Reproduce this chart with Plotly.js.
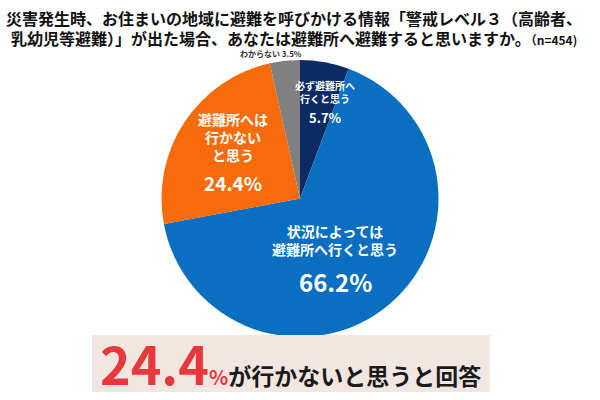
<!DOCTYPE html>
<html>
<head>
<meta charset="utf-8">
<script src="https://cdn.plot.ly/plotly-3.0.1.min.js"></script>
<style>
  html, body { margin: 0; padding: 0; background: #fff; }
  #chart { width: 600px; height: 400px; }
</style>
</head>
<body>
<div id="chart"></div>
<script>
const categories = ['必ず避難所へ行くと思う', '状況によっては避難所へ行くと思う', '避難所へは行かないと思う', 'わからない']
const labelLines = [
  ['必ず避難所へ', '行くと思う'],
  ['状況によっては', '避難所へ行くと思う'],
  ['避難所へは', '行かない', 'と思う'],
  ['わからない']
]
const shares = [5.7, 66.2, 24.4, 3.5]
const sliceColors = ['#0c2b62', '#0a6fc1', '#f76b0b', '#808080']
const sampleSize = 454
const titleLines = [
  '災害発生時、お住まいの地域に避難を呼びかける情報「警戒レベル３（高齢者、',
  '乳幼児等避難）」が出た場合、あなたは避難所へ避難すると思いますか。'
]
const bannerValue = 24.4
const bannerText = 'が行かないと思うと回答'

const pct = v => v.toFixed(1) + '%'
const font = '"Noto Sans CJK JP", "Noto Sans", sans-serif'

const trace = {
  type: 'pie',
  labels: categories,
  values: shares,
  sort: false,
  direction: 'clockwise',
  rotation: 0,
  marker: { colors: sliceColors, line: { width: 0 } },
  textinfo: 'none',
  hoverinfo: 'label+percent',
  domain: { x: [156 / 600, 444 / 600], y: [1 - 337 / 400, 1 - 60 / 400] }
}

// label placement for each slice (pixels from top-left) and sizes
const labelSpots = [
  { x: 325, y: 92, size: 10, pctY: 117, pctSize: 13 },
  { x: 335, y: 240, size: 14, pctY: 281, pctSize: 24 },
  { x: 233, y: 137, size: 14, pctY: 182, pctSize: 19 }
]

const annotations = []
labelSpots.forEach((s, i) => {
  annotations.push({
    xref: 'paper', yref: 'paper', x: s.x / 600, y: 1 - s.y / 400,
    xanchor: 'center', yanchor: 'middle', showarrow: false,
    text: '<b>' + labelLines[i].join('<br>') + '</b>',
    font: { family: font, size: s.size, color: '#fff' }
  })
  annotations.push({
    xref: 'paper', yref: 'paper', x: s.x / 600, y: 1 - s.pctY / 400,
    xanchor: 'center', yanchor: 'middle', showarrow: false,
    text: '<b>' + pct(shares[i]) + '</b>',
    font: { family: font, size: s.pctSize, color: '#fff' }
  })
})

// small outside label for the grey slice
annotations.push({
  xref: 'paper', yref: 'paper', x: 271 / 600, y: 1 - 53 / 400,
  xanchor: 'center', yanchor: 'middle', showarrow: false,
  text: '<b>' + labelLines[3].join('') + ' ' + pct(shares[3]) + '</b>',
  font: { family: font, size: 8, color: '#333' }
})

// title, one annotation per line to keep the tighter line spacing
annotations.push({
  xref: 'paper', yref: 'paper', x: 294 / 600, y: 1 - 18 / 400,
  xanchor: 'center', yanchor: 'middle', showarrow: false,
  text: '<b>' + titleLines[0] + '</b>',
  font: { family: font, size: 16, color: '#111' }
})
annotations.push({
  xref: 'paper', yref: 'paper', x: 294 / 600, y: 1 - 38 / 400,
  xanchor: 'center', yanchor: 'middle', showarrow: false,
  text: '<b>' + titleLines[1] + '<span style="font-size:12px">（n=' + sampleSize + ')</span></b>',
  font: { family: font, size: 16, color: '#111' }
})

// banner text
annotations.push({
  xref: 'paper', yref: 'paper', x: 290 / 600, y: 1 - 362 / 400,
  xanchor: 'center', yanchor: 'middle', showarrow: false,
  text: '<b><span style="font-size:52px;fill:#e8383b">' + bannerValue.toFixed(1) + '</span>' +
    '<span style="font-size:20px;fill:#e8383b">%</span>' + bannerText + '</b>',
  font: { family: font, size: 23, color: '#1a1a1a' }
})

const layout = {
  width: 600,
  height: 400,
  margin: { l: 0, r: 0, t: 0, b: 0 },
  paper_bgcolor: '#fff',
  showlegend: false,
  shapes: [{
    type: 'rect', xref: 'paper', yref: 'paper', layer: 'above',
    x0: 92 / 600, x1: 490 / 600, y0: 1 - 392 / 400, y1: 1 - 335 / 400,
    fillcolor: '#f2e6e0', line: { width: 0 }
  }],
  annotations: annotations
}

Plotly.newPlot('chart', [trace], layout, { displayModeBar: false, staticPlot: true })
</script>
</body>
</html>
